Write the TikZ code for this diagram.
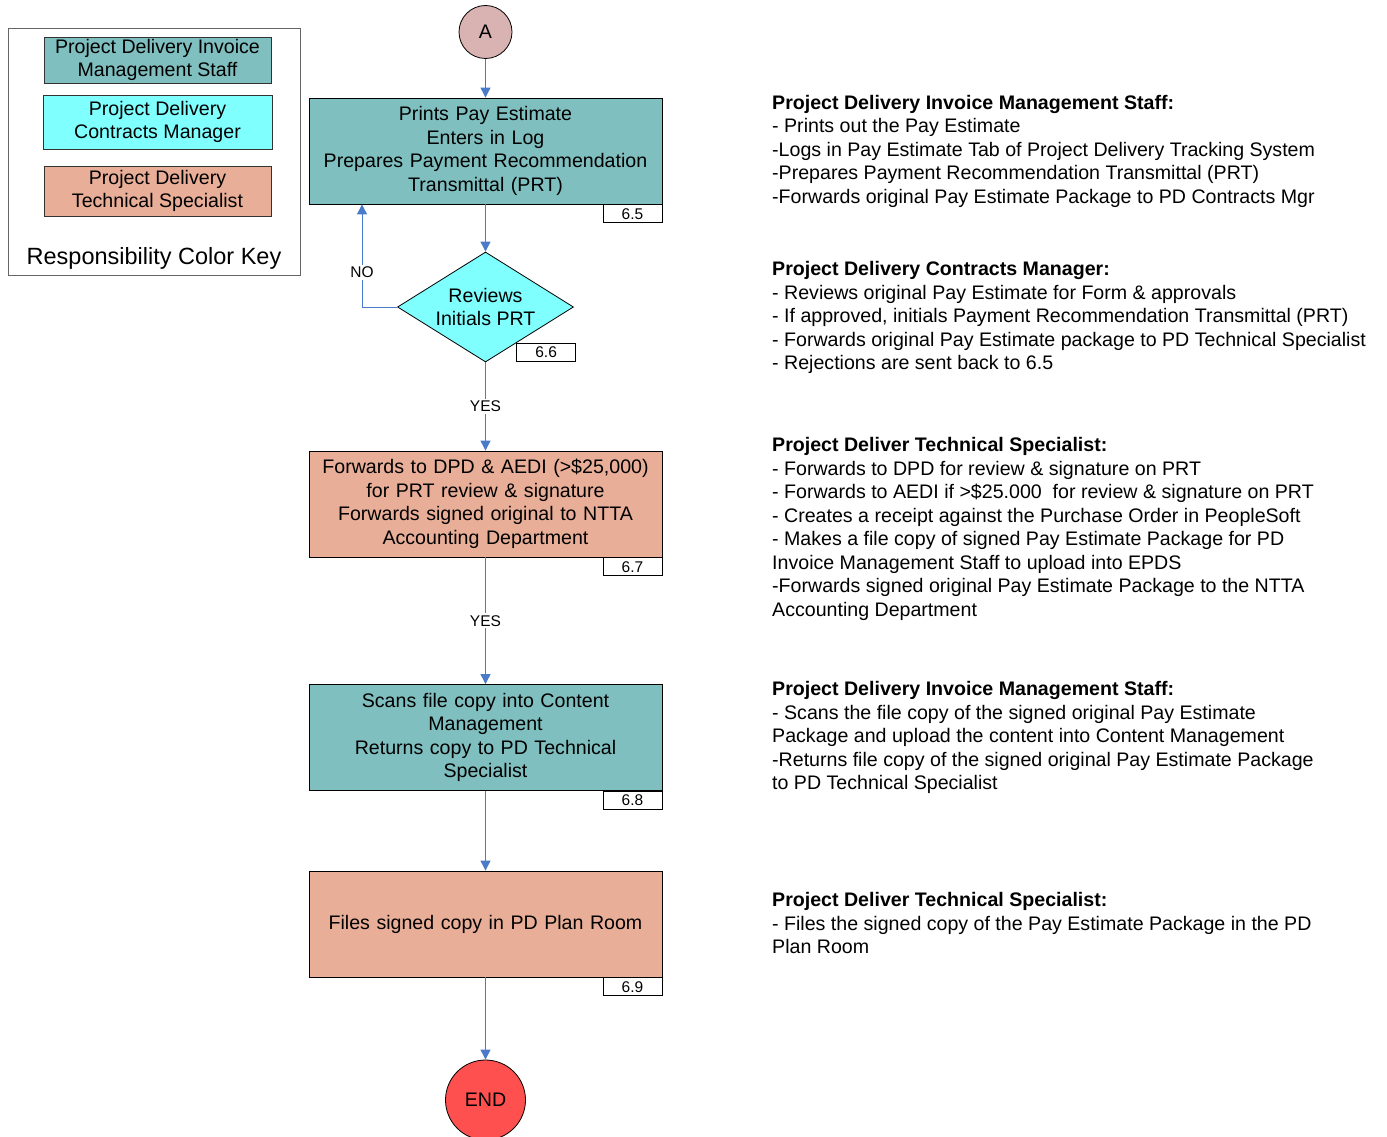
\documentclass[tikz,border=0pt]{standalone}
\usepackage{fontspec}
\setmainfont{Liberation Sans}
\usetikzlibrary{arrows.meta,shapes.geometric,positioning,calc}

\definecolor{staffteal}{RGB}{128,191,191}
\definecolor{mgrcyan}{RGB}{128,255,255}
\definecolor{specsalmon}{RGB}{233,174,152}
\definecolor{startpink}{RGB}{217,178,178}
\definecolor{endred}{RGB}{255,80,80}
\definecolor{flowblue}{RGB}{74,123,200}

\newcommand{\bodysize}{\fontsize{19.6}{23.5}\selectfont}
\newcommand{\tagsize}{\fontsize{15.5}{18}\selectfont}
\newcommand{\keytitlesize}{\fontsize{23.5}{28}\selectfont}

\tikzset{
  stepbox/.style={draw=black, line width=0.8pt, minimum width=353pt, minimum height=106pt,
    text width=340pt, align=center, inner sep=0pt, font=\bodysize},
  tagbox/.style={draw=black, fill=white, line width=0.8pt, minimum width=59pt,
    minimum height=18pt, inner sep=0pt, font=\tagsize, anchor=north east},
  flow/.style={draw=flowblue, line width=0.9pt, -{Triangle[width=10pt,length=10pt]}},
  flowlabel/.style={fill=white, inner sep=2pt, font=\tagsize},
  keybox/.style={draw=black!80, line width=0.8pt, align=center, inner sep=0pt, font=\bodysize},
  notes/.style={anchor=north west, align=left, inner sep=0pt, font=\bodysize},
}

\begin{document}
\begin{tikzpicture}[x=1pt, y=-1pt]

  % page frame
  \useasboundingbox (0,0) rectangle (1387,1137);

  % Responsibility color key
  \draw[black!60, line width=0.8pt] (8,28) rectangle (300,275);
  \node[keybox, fill=staffteal, minimum width=227pt, minimum height=46pt] (keystaff) at (157.5,60)
    {Project Delivery Invoice\\Management Staff};
  \node[keybox, fill=mgrcyan, minimum width=229pt, minimum height=54pt] (keymgr) at (157.5,122)
    {Project Delivery\\Contracts Manager};
  \node[keybox, fill=specsalmon, minimum width=227pt, minimum height=50pt] (keyspec) at (157.5,191)
    {Project Delivery\\Technical Specialist};
  \node[font=\keytitlesize, inner sep=0pt] (keytitle) at (154,258) {Responsibility Color Key};

  % Flow nodes
  \node[circle, draw=black, line width=0.8pt, fill=startpink, minimum size=53pt, inner sep=0pt,
    font=\bodysize] (start) at (485.5,32) {A};

  \node[stepbox, fill=staffteal] (print) at (485.5,151)
    {Prints Pay Estimate\\Enters in Log\\Prepares Payment Recommendation\\Transmittal (PRT)};
  \node[tagbox] (tagprint) at (print.south east) {6.5};

  \node[diamond, aspect=1.6, draw=black, line width=0.8pt, fill=mgrcyan, minimum width=176pt,
    minimum height=110pt, inner sep=0pt, align=center, font=\bodysize] (review) at (485.5,307)
    {Reviews\\Initials PRT};
  \node[tagbox] (tagreview) at (576,343) {6.6};

  \node[stepbox, fill=specsalmon] (forward) at (485.5,504)
    {Forwards to DPD \& AEDI (>\$25,000)\\for PRT review \& signature\\Forwards signed original to NTTA\\Accounting Department};
  \node[tagbox] (tagforward) at (forward.south east) {6.7};

  \node[stepbox, fill=staffteal] (scan) at (485.5,737.5)
    {Scans file copy into Content\\Management\\Returns copy to PD Technical\\Specialist};
  \node[tagbox] (tagscan) at (scan.south east) {6.8};

  \node[stepbox, fill=specsalmon] (file) at (485.5,924)
    {Files signed copy in PD Plan Room};
  \node[tagbox] (tagfile) at (file.south east) {6.9};

  \node[circle, draw=black, line width=0.8pt, fill=endred, minimum size=80pt, inner sep=0pt,
    font=\bodysize] (finish) at (485.5,1100) {END};

  % Connectors
  \coordinate (nox) at (362,0);
  \draw[flow] (start) -- (print);
  \draw[flow] (print) -- (review);
  \draw[flow] (review.west) -| node[flowlabel, pos=0.67] {NO} (print.south -| nox);
  \draw[flow] (review) -- node[flowlabel] {YES} (forward);
  \draw[flow] (forward) -- node[flowlabel] {YES} (scan);
  \draw[flow] (scan) -- (file);
  \draw[flow] (file) -- (finish);

  % Role notes
  \node[notes] (notesprint) at (772,95)
    {\textbf{Project Delivery Invoice Management Staff:}\\
     - Prints out the Pay Estimate\\
     -Logs in Pay Estimate Tab of Project Delivery Tracking System\\
     -Prepares Payment Recommendation Transmittal (PRT)\\
     -Forwards original Pay Estimate Package to PD Contracts Mgr};
  \node[notes] (notesreview) at (772,261.5)
    {\textbf{Project Delivery Contracts Manager:}\\
     - Reviews original Pay Estimate for Form \& approvals\\
     - If approved, initials Payment Recommendation Transmittal (PRT)\\
     - Forwards original Pay Estimate package to PD Technical Specialist\\
     - Rejections are sent back to 6.5};
  \node[notes] (notesforward) at (772,437.5)
    {\textbf{Project Deliver Technical Specialist:}\\
     - Forwards to DPD for review \& signature on PRT\\
     - Forwards to AEDI if >\$25.000\ \ for review \& signature on PRT\\
     - Creates a receipt against the Purchase Order in PeopleSoft\\
     - Makes a file copy of signed Pay Estimate Package for PD\\
     Invoice Management Staff to upload into EPDS\\
     -Forwards signed original Pay Estimate Package to the NTTA\\
     Accounting Department};
  \node[notes] (notesscan) at (772,681.5)
    {\textbf{Project Delivery Invoice Management Staff:}\\
     - Scans the file copy of the signed original Pay Estimate\\
     Package and upload the content into Content Management\\
     -Returns file copy of the signed original Pay Estimate Package\\
     to PD Technical Specialist};
  \node[notes] (notesfile) at (772,892.5)
    {\textbf{Project Deliver Technical Specialist:}\\
     - Files the signed copy of the Pay Estimate Package in the PD\\
     Plan Room};

\end{tikzpicture}
\end{document}
